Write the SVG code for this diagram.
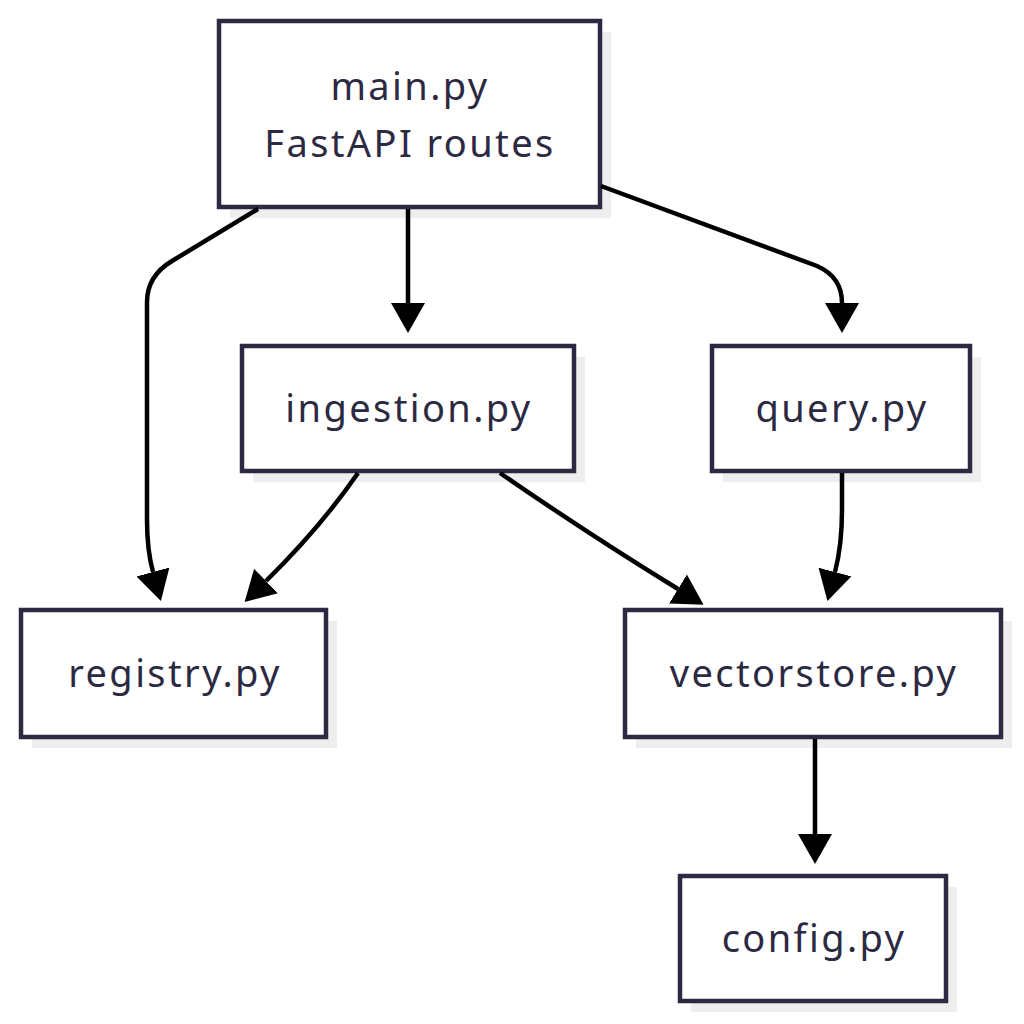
<svg xmlns="http://www.w3.org/2000/svg" width="1024" height="1024" viewBox="0 0 1024 1024">
<style>
.shadow{fill:#eeeeee}
.box{fill:#ffffff;stroke:#2b2a42;stroke-width:4.5}
.label{font-family:"Noto Sans","Open Sans",sans-serif;font-size:38px;letter-spacing:2.4px;fill:#2b2a42;text-anchor:middle}
.edge{fill:none;stroke:#000000;stroke-width:4.5}
</style>
<defs>
<marker id="arrow" viewBox="0 0 30 34" refX="0" refY="17" markerWidth="30" markerHeight="34" markerUnits="userSpaceOnUse" orient="auto">
<path d="M0,0 L30,17 L0,34 z" fill="#000000"/>
</marker>
</defs>
<rect width="1024" height="1024" fill="#ffffff"/>
<g id="main">
<rect class="shadow" x="230" y="32" width="381" height="186"/>
<rect class="box" x="219" y="21" width="381" height="186"/>
<text class="label" x="410" y="100">main.py</text>
<text class="label" x="410" y="157">FastAPI routes</text>
</g>
<g id="ingestion">
<rect class="shadow" x="253" y="357" width="332" height="125"/>
<rect class="box" x="242" y="346" width="332" height="125"/>
<text class="label" x="409" y="422">ingestion.py</text>
</g>
<g id="query">
<rect class="shadow" x="723" y="357" width="258" height="125"/>
<rect class="box" x="712" y="346" width="258" height="125"/>
<text class="label" x="842" y="422">query.py</text>
</g>
<g id="registry">
<rect class="shadow" x="32" y="621" width="305" height="127"/>
<rect class="box" x="21" y="610" width="305" height="127"/>
<text class="label" x="175" y="687">registry.py</text>
</g>
<g id="vectorstore">
<rect class="shadow" x="636" y="621" width="376" height="127"/>
<rect class="box" x="625" y="610" width="376" height="127"/>
<text class="label" x="814" y="687">vectorstore.py</text>
</g>
<g id="config">
<rect class="shadow" x="691" y="887" width="266" height="125"/>
<rect class="box" x="680" y="876" width="266" height="125"/>
<text class="label" x="814" y="952">config.py</text>
</g>
<g id="connectors">
<path class="edge" d="M258,209 L172,261 Q147,276 147,302 L147,520 Q147,550 153,572" marker-end="url(#arrow)"/>
<path class="edge" d="M408,209 L408,303" marker-end="url(#arrow)"/>
<path class="edge" d="M601,186 L817,266 Q842,277 842,303" marker-end="url(#arrow)"/>
<path class="edge" d="M358,473 Q320,528 266,581" marker-end="url(#arrow)"/>
<path class="edge" d="M500,473 Q590,535 678,589" marker-end="url(#arrow)"/>
<path class="edge" d="M842,473 L842,510 Q842,545 835,572" marker-end="url(#arrow)"/>
<path class="edge" d="M815,739 L815,834" marker-end="url(#arrow)"/>
</g>
</svg>
